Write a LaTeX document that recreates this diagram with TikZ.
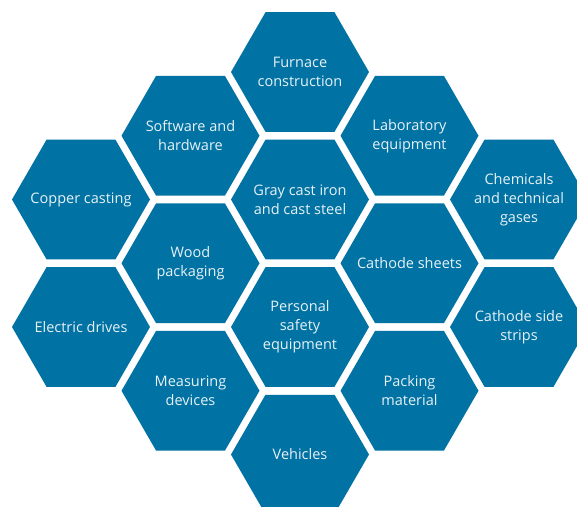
\documentclass[tikz,border=0pt]{standalone}
\usepackage{fontspec}
\setmainfont{Open Sans}
\usetikzlibrary{shapes.geometric}
\definecolor{hexblue}{RGB}{0,114,163}
\definecolor{hexlabel}{RGB}{232,242,247}
\begin{document}
\begin{tikzpicture}[x=1pt, y=-1pt,
  hexcell/.style={regular polygon, regular polygon sides=6, minimum size=138pt,
    inner sep=-20pt, fill=hexblue, text=hexlabel, align=center,
    font=\fontsize{14.5}{19}\selectfont}]
\useasboundingbox (0,0) rectangle (577,508);
\clip (0,0) rectangle (577,506);

\node[hexcell] (copper) at (81,199.5) {Copper casting};
\node[hexcell] (drives) at (81,327) {Electric drives};

\node[hexcell] (software) at (190.5,135.75) {Software and\\hardware};
\node[hexcell] (wood) at (190.5,263.25) {Wood\\packaging};
\node[hexcell] (measuring) at (190.5,390.75) {Measuring\\devices};

\node[hexcell] (furnace) at (300,72) {Furnace\\construction};
\node[hexcell] (castiron) at (300,199.5) {Gray cast iron\\and cast steel};
\node[hexcell] (safety) at (300,327) {Personal\\safety\\equipment};
\node[hexcell] (vehicles) at (300,454.5) {Vehicles};

\node[hexcell] (laboratory) at (409.5,135.75) {Laboratory\\equipment};
\node[hexcell] (cathode) at (409.5,263.25) {Cathode sheets};
\node[hexcell] (packing) at (409.5,390.75) {Packing\\material};

\node[hexcell] (chemicals) at (519,199.5) {Chemicals\\and technical\\gases};
\node[hexcell] (strips) at (519,327) {Cathode side\\strips};
\end{tikzpicture}
\end{document}
